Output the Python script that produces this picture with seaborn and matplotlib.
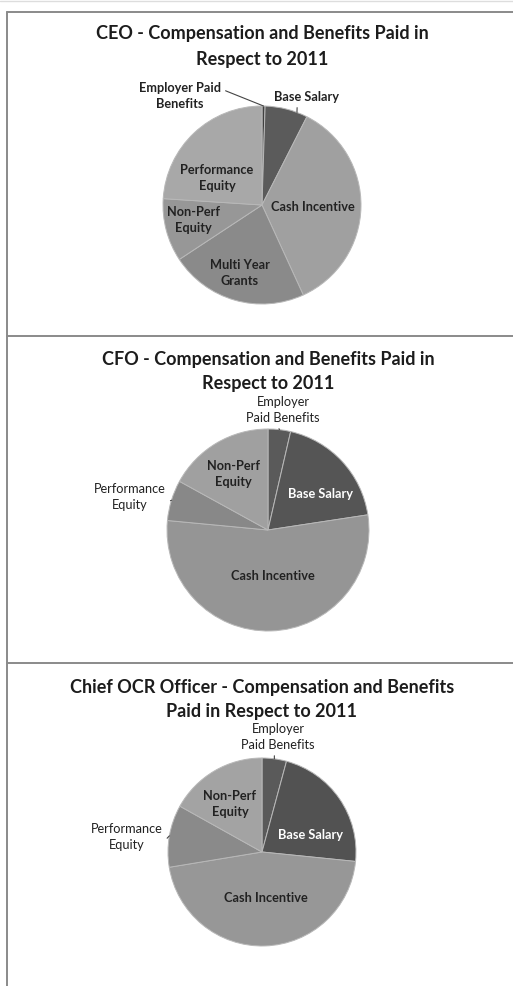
import matplotlib
matplotlib.use("Agg")
import matplotlib.pyplot as plt
from matplotlib.lines import Line2D
import numpy as np
import seaborn as sns

# ---- data -------------------------------------------------------------
ceo_titles = "CEO - Compensation and Benefits Paid in\nRespect to 2011"
ceo_labels = ["Employer Paid\nBenefits", "Base Salary", "Cash Incentive",
              "Multi Year\nGrants", "Non-Perf\nEquity", "Performance\nEquity"]
ceo_values = [0.5, 7.0, 35.7, 22.6, 10.3, 24.0]

cfo_titles = "CFO - Compensation and Benefits Paid in\nRespect to 2011"
cfo_labels = ["Employer\nPaid Benefits", "Base Salary", "Cash Incentive",
              "Performance\nEquity", "Non-Perf\nEquity"]
cfo_values = [3.6, 19.0, 53.9, 6.5, 17.0]

ocr_titles = "Chief OCR Officer - Compensation and Benefits\nPaid in Respect to 2011"
ocr_labels = ["Employer\nPaid Benefits", "Base Salary", "Cash Incentive",
              "Performance\nEquity", "Non-Perf\nEquity"]
ocr_values = [4.2, 22.4, 45.8, 10.7, 16.9]

# ---- styling ----------------------------------------------------------
sns.set_theme(style="white")
plt.rcParams["font.family"] = ["Lato", "DejaVu Sans"]

W, H = 513, 986
fig = plt.figure(figsize=(W / 100, H / 100), dpi=100)
fig.patch.set_facecolor("white")

TITLE_SIZE = 13
LABEL_SIZE = 9.2
LABEL_SPACING = 1.42


def fx(x):
    return x / W


def fy(y):
    return 1 - y / H


panels = [
    dict(title=ceo_titles, labels=ceo_labels, values=ceo_values,
         center=(262, 205), radius=99, title_y=(34, 60),
         colors=["#404040", "#5b5b5b", "#a0a0a0", "#8a8a8a", "#979797", "#a8a8a8"],
         text=[(180, 96), (307, 97), (313, 207), (240, 273), (193, 220), (217, 178)],
         white=[],
         weights=["bold"] * 6,
         leaders={0: (0.5, (1.0, 0.75)), 1: (0.75, (0.35, 0.0))}),
    dict(title=cfo_titles, labels=cfo_labels, values=cfo_values,
         center=(268, 530), radius=101, title_y=(359, 384),
         colors=["#5a5a5a", "#555555", "#959595", "#888888", "#a0a0a0"],
         text=[(283, 410), (320, 494), (273, 576), (130, 497), (233, 474)],
         white=[1],
         weights=["normal", "bold", "bold", "normal", "bold"],
         leaders={0: (0.5, (0.42, 0.0)), 3: (0.5, (1.0, 0.3))}),
    dict(title=ocr_titles, labels=ocr_labels, values=ocr_values,
         center=(262, 852), radius=94, title_y=(687, 712),
         colors=["#5a5a5a", "#525252", "#979797", "#8a8a8a", "#a3a3a3"],
         text=[(278, 737), (310, 835), (266, 898), (127, 837), (230, 804)],
         white=[1],
         weights=["normal", "bold", "bold", "normal", "bold"],
         leaders={0: (0.5, (0.45, 0.0)), 3: (0.5, (1.0, 0.3))}),
]

for p in panels:
    cx, cy = p["center"]
    r = p["radius"]
    k = 1.25
    ax = fig.add_axes([fx(cx - k * r), fy(cy + k * r), 2 * k * r / W, 2 * k * r / H])
    wedges, _ = ax.pie(p["values"], colors=p["colors"], startangle=90,
                       counterclock=False,
                       wedgeprops=dict(edgecolor="#b8b8b8", linewidth=0.7))
    ax.set_xlim(-k, k)
    ax.set_ylim(-k, k)
    ax.set_aspect("equal")
    ax.axis("off")

    # two-line chart title
    t1, t2 = p["title"].split("\n")
    for line, ty in zip((t1, t2), p["title_y"]):
        fig.text(fx(cx), fy(ty), line, ha="center", va="center",
                 fontsize=TITLE_SIZE, fontweight="bold", color="#1c1c1c")

    for i, (lab, (tx, ty)) in enumerate(zip(p["labels"], p["text"])):
        color = "white" if i in p["white"] else "#222222"
        if i in p["leaders"]:
            frac, relpos = p["leaders"][i]
            w = wedges[i]
            ang = np.deg2rad(w.theta2 + (w.theta1 - w.theta2) * frac)
            ax.annotate(lab, xy=(np.cos(ang), np.sin(ang)), xycoords="data",
                        xytext=(fx(tx), fy(ty)), textcoords="figure fraction",
                        ha="center", va="center", fontsize=LABEL_SIZE,
                        fontweight=p["weights"][i], color=color,
                        linespacing=LABEL_SPACING,
                        arrowprops=dict(arrowstyle="-", color="#444444",
                                        lw=0.8, relpos=relpos,
                                        shrinkA=1, shrinkB=0))
        else:
            fig.text(fx(tx), fy(ty), lab, ha="center", va="center",
                     fontsize=LABEL_SIZE, fontweight=p["weights"][i], color=color,
                     linespacing=LABEL_SPACING)

# panel frame lines
frame_kw = dict(color="#8a8a8a", lw=1.4, transform=fig.transFigure)
for yy in (12, 336, 663):
    fig.add_artist(Line2D([fx(7), 1.0], [fy(yy), fy(yy)], **frame_kw))
fig.add_artist(Line2D([fx(7), fx(7)], [fy(12), 0.0], **frame_kw))
fig.add_artist(Line2D([0, 1.0], [fy(0.5), fy(0.5)], color="#dddddd", lw=1,
                      transform=fig.transFigure))

fig.savefig("out.png", dpi=100, facecolor="white")
